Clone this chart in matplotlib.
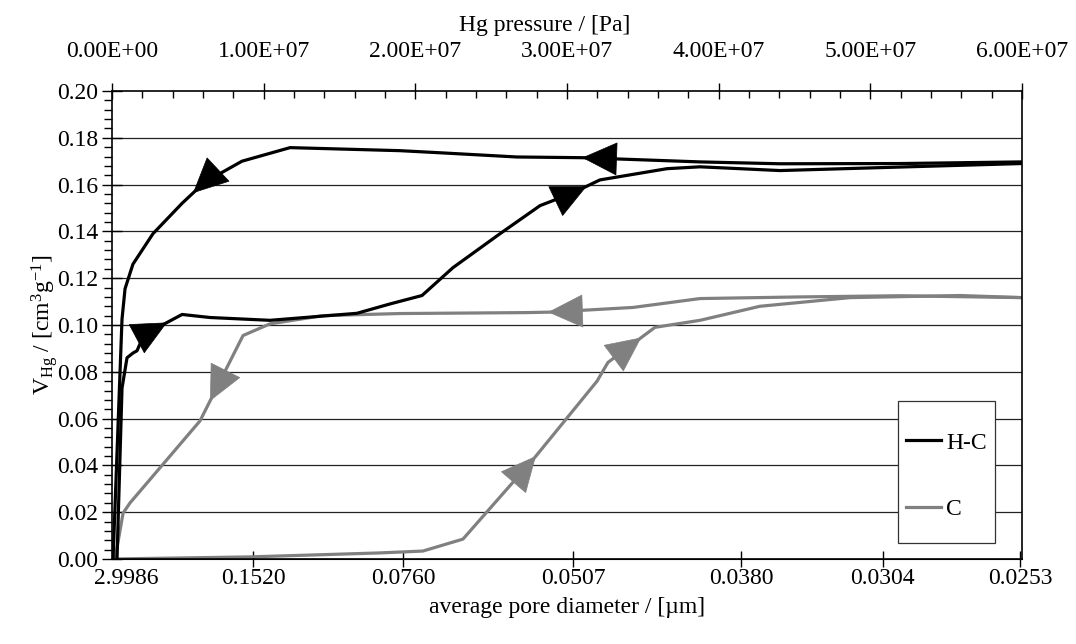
import matplotlib
matplotlib.use("Agg")
import matplotlib.pyplot as plt
import numpy as np
from matplotlib.patches import Rectangle
from matplotlib.ticker import MultipleLocator

plt.rcParams["font.family"] = ["Liberation Serif", "DejaVu Serif"]
plt.rcParams["mathtext.fontset"] = "custom"
plt.rcParams["mathtext.rm"] = "Liberation Serif"
plt.rcParams["mathtext.it"] = "Liberation Serif:italic"

SCALE = 1e7  # pressures below are in units of 1e7 Pa
FS = 17

# H-C intrusion (pressure rising)
p_hc_in = [0.033, 0.066, 0.099, 0.138, 0.165, 0.185, 0.237, 0.303, 0.462, 0.646,
           1.042, 1.615, 1.833, 2.044, 2.248, 2.558, 2.822, 3.040, 3.217, 3.659,
           3.877, 4.404, 5.195, 6.000]
v_hc_in = [0.000, 0.073, 0.086, 0.088, 0.089, 0.092, 0.096, 0.099, 0.1045, 0.1032,
           0.102, 0.105, 0.109, 0.1126, 0.1245, 0.139, 0.151, 0.1565, 0.162, 0.1668,
           0.1676, 0.166, 0.1675, 0.169]

# H-C extrusion (pressure falling)
p_hc_out = [6.000, 5.195, 4.404, 3.877, 3.099, 2.670, 2.163, 1.899, 1.174, 0.857,
            0.610, 0.462, 0.270, 0.138, 0.086, 0.066, 0.007]
v_hc_out = [0.1697, 0.1690, 0.1689, 0.1697, 0.1715, 0.1718, 0.1736, 0.1745, 0.1758,
            0.170, 0.161, 0.152, 0.139, 0.126, 0.1155, 0.1025, 0.000]

# C intrusion
p_c_in = [0.000, 0.910, 1.767, 2.050, 2.314, 2.789, 3.198, 3.270, 3.580, 3.877,
          4.272, 4.866, 5.591, 6.000]
v_c_in = [0.000, 0.0009, 0.0026, 0.0034, 0.0085, 0.0435, 0.076, 0.084, 0.099, 0.102,
          0.108, 0.1117, 0.1126, 0.1117]

# C extrusion
p_c_out = [6.000, 5.195, 4.536, 3.877, 3.435, 2.888, 2.736, 1.899, 1.391, 1.042,
           0.864, 0.580, 0.119, 0.073, 0.020]
v_c_out = [0.1117, 0.1125, 0.1120, 0.1113, 0.1075, 0.1055, 0.1053, 0.1049, 0.1040,
           0.1005, 0.0955, 0.059, 0.024, 0.0196, 0.000]

# arrow tips (pressure, 1e7 Pa)
arrows_hc_in = [0.363, 3.13]
arrows_hc_out = [3.10, 0.534]
arrows_c_in = [2.795, 3.49]
arrows_c_out = [2.875, 0.646]

top_ticks = [0, 1, 2, 3, 4, 5, 6]
top_labels = ["0.00E+00", "1.00E+07", "2.00E+07", "3.00E+07", "4.00E+07",
              "5.00E+07", "6.00E+07"]
bottom_ticks = [0.092, 0.930, 1.919, 3.039, 4.147, 5.083, 5.987]
bottom_labels = ["2.9986", "0.1520", "0.0760", "0.0507", "0.0380", "0.0304", "0.0253"]

BLACK = "#000000"
GREY = "#808080"


def add_arrows(ax, px, vy, tips, color, length=26):
    px = np.asarray(px) * SCALE
    vy = np.asarray(vy)
    order = np.argsort(px)
    xs, ys = px[order], vy[order]
    increasing = px[-1] > px[0]
    for t in tips:
        t = t * SCALE
        tip = np.array([t, np.interp(t, xs, ys)])
        back = t - 0.02 * SCALE if increasing else t + 0.02 * SCALE
        tail = np.array([back, np.interp(back, xs, ys)])
        d_tip = ax.transData.transform(tip)
        d_tail = ax.transData.transform(tail)
        u = (d_tail - d_tip) / np.hypot(*(d_tail - d_tip))
        start = ax.transData.inverted().transform(d_tip + u * length)
        ax.annotate("", xy=tip, xytext=start,
                    arrowprops=dict(arrowstyle="-|>,head_length=1.05,head_width=0.5",
                                    mutation_scale=23, color=color, lw=0.5,
                                    shrinkA=0, shrinkB=0))


fig = plt.figure(figsize=(10.76, 6.44), dpi=100)
ax = fig.add_axes([112 / 1076, 85 / 644, 910 / 1076, 468 / 644])

ax.set_xlim(0, 6 * SCALE)
ax.set_ylim(0, 0.20)

for y in np.arange(0.02, 0.19, 0.02):
    ax.axhline(y, color="#222222", lw=0.9, zorder=1)

l_hc, = ax.plot(np.array(p_hc_in) * SCALE, v_hc_in, color=BLACK, lw=2.3, zorder=3, label="H-C")
ax.plot(np.array(p_hc_out) * SCALE, v_hc_out, color=BLACK, lw=2.3, zorder=3)
l_c, = ax.plot(np.array(p_c_in) * SCALE, v_c_in, color=GREY, lw=2.3, zorder=2, label="C")
ax.plot(np.array(p_c_out) * SCALE, v_c_out, color=GREY, lw=2.3, zorder=2)

add_arrows(ax, p_hc_in, v_hc_in, arrows_hc_in, BLACK)
add_arrows(ax, p_hc_out, v_hc_out, arrows_hc_out, BLACK)
add_arrows(ax, p_c_in, v_c_in, arrows_c_in, GREY)
add_arrows(ax, p_c_out, v_c_out, arrows_c_out, GREY)

# top axis: pressure
ax.xaxis.tick_top()
ax.xaxis.set_label_position("top")
ax.set_xticks([t * SCALE for t in top_ticks])
ax.set_xticklabels(top_labels)
ax.xaxis.set_minor_locator(MultipleLocator(0.2 * SCALE))
ax.tick_params(axis="x", which="major", direction="inout", length=12, width=1,
               labelsize=FS, pad=15)
ax.tick_params(axis="x", which="minor", direction="in", length=5, width=1)
ax.set_xlabel("Hg pressure / [Pa]", fontsize=FS)
ax.xaxis.set_label_coords((545 - 112) / 910, 1 + (91 - 31) / 468)

ax.set_yticks(np.arange(0, 0.201, 0.02))
ax.set_yticklabels([f"{v:.2f}" for v in np.arange(0, 0.201, 0.02)])
ax.yaxis.set_minor_locator(MultipleLocator(0.004))
ax.tick_params(axis="y", which="major", direction="inout", length=14, width=1,
               labelsize=FS, pad=3)
ax.tick_params(axis="y", which="minor", direction="out", length=6, width=1)
ax.set_ylabel(r"V$_{\mathrm{Hg}}$ / [cm$^{3}$g$^{-1}$]", fontsize=FS, labelpad=-2)

# bottom axis: pore diameter
sec = ax.secondary_xaxis("bottom")
sec.set_xticks([t * SCALE for t in bottom_ticks])
sec.set_xticklabels(bottom_labels)
sec.tick_params(axis="x", which="major", direction="inout", length=12, width=1,
                labelsize=FS, pad=0.5)
sec.xaxis.get_major_ticks()[0].tick1line.set_visible(False)
sec.set_xlabel("average pore diameter / [µm]", fontsize=FS, labelpad=6)

for s in ax.spines.values():
    s.set_linewidth(1.2)
    s.set_color("black")

# legend box
box = Rectangle((898 / 1076, 1 - 543 / 644), 97 / 1076, 142 / 644,
                transform=fig.transFigure, facecolor="white", edgecolor="#333333",
                lw=0.9, zorder=4)
ax.add_patch(box)
box.set_clip_on(False)
leg = ax.legend(handles=[l_hc, l_c], loc="center left",
                bbox_to_anchor=(906 / 1076, 1 - 476 / 644),
                bbox_transform=fig.transFigure, borderaxespad=0, borderpad=0,
                frameon=False, fontsize=FS, handlelength=1.5, handletextpad=0.2,
                labelspacing=1.9)
leg.set_zorder(5)

fig.savefig("out.png", dpi=100)
